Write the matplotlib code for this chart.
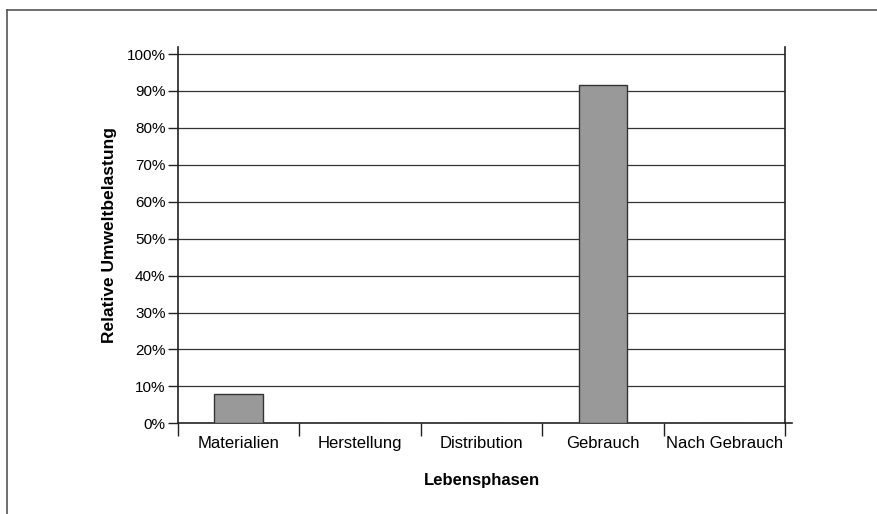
import matplotlib.pyplot as plt
from matplotlib.lines import Line2D
from matplotlib.ticker import PercentFormatter

plt.rcParams['font.family'] = ['Liberation Sans', 'DejaVu Sans']

# Data
phasen = ['Materialien', 'Herstellung', 'Distribution', 'Gebrauch', 'Nach Gebrauch']
belastung = [7.8, 0.0, 0.0, 91.7, 0.0]
yticks = list(range(0, 101, 10))

fig = plt.figure(figsize=(8.77, 5.14), dpi=100)
ax = fig.add_axes([0.203, 0.1765, 0.692, 0.732])

# outer frame (top and left only)
fig.add_artist(Line2D([0.008, 1.0], [0.981, 0.981], transform=fig.transFigure,
                      color='#555555', lw=1.2))
fig.add_artist(Line2D([0.008, 0.008], [0.0, 0.981], transform=fig.transFigure,
                      color='#555555', lw=1.2))

x = list(range(len(phasen)))
ax.bar(x, belastung, width=0.4, color='#999999', edgecolor='#333333', lw=1, zorder=3)

ax.set_xlim(-0.5, len(phasen) - 0.5)
ax.set_ylim(0, 101.9)
ax.set_yticks(yticks)
ax.yaxis.set_major_formatter(PercentFormatter(decimals=0))
for t in yticks[1:]:
    ax.axhline(t, color='#333333', lw=0.9, zorder=1)

# category boundaries as x ticks
ax.set_xticks([i - 0.5 for i in range(len(phasen) + 1)])
ax.set_xticklabels([])
ax.set_xticks(x, minor=True)
ax.set_xticklabels(phasen, minor=True)
ax.tick_params(axis='x', which='major', direction='out', length=9, width=1, color='#222222')
ax.tick_params(axis='x', which='minor', length=0, pad=9, labelsize=12)
ax.tick_params(axis='y', direction='out', length=7, width=1, color='#222222', labelsize=11, pad=2)

ax.spines['top'].set_visible(False)
for s in ['left', 'right', 'bottom']:
    ax.spines[s].set_color('#222222')
    ax.spines[s].set_linewidth(1.2)
# bottom axis line runs a little past the right edge
ax.plot([1.0, 1.012], [0, 0], transform=ax.transAxes, color='#222222', lw=1.2, clip_on=False)

ax.set_xlabel('Lebensphasen', fontsize=12, fontweight='bold', labelpad=16)
ax.set_ylabel('Relative Umweltbelastung', fontsize=12.5, fontweight='bold', labelpad=7)

fig.savefig('out.png', dpi=100)
